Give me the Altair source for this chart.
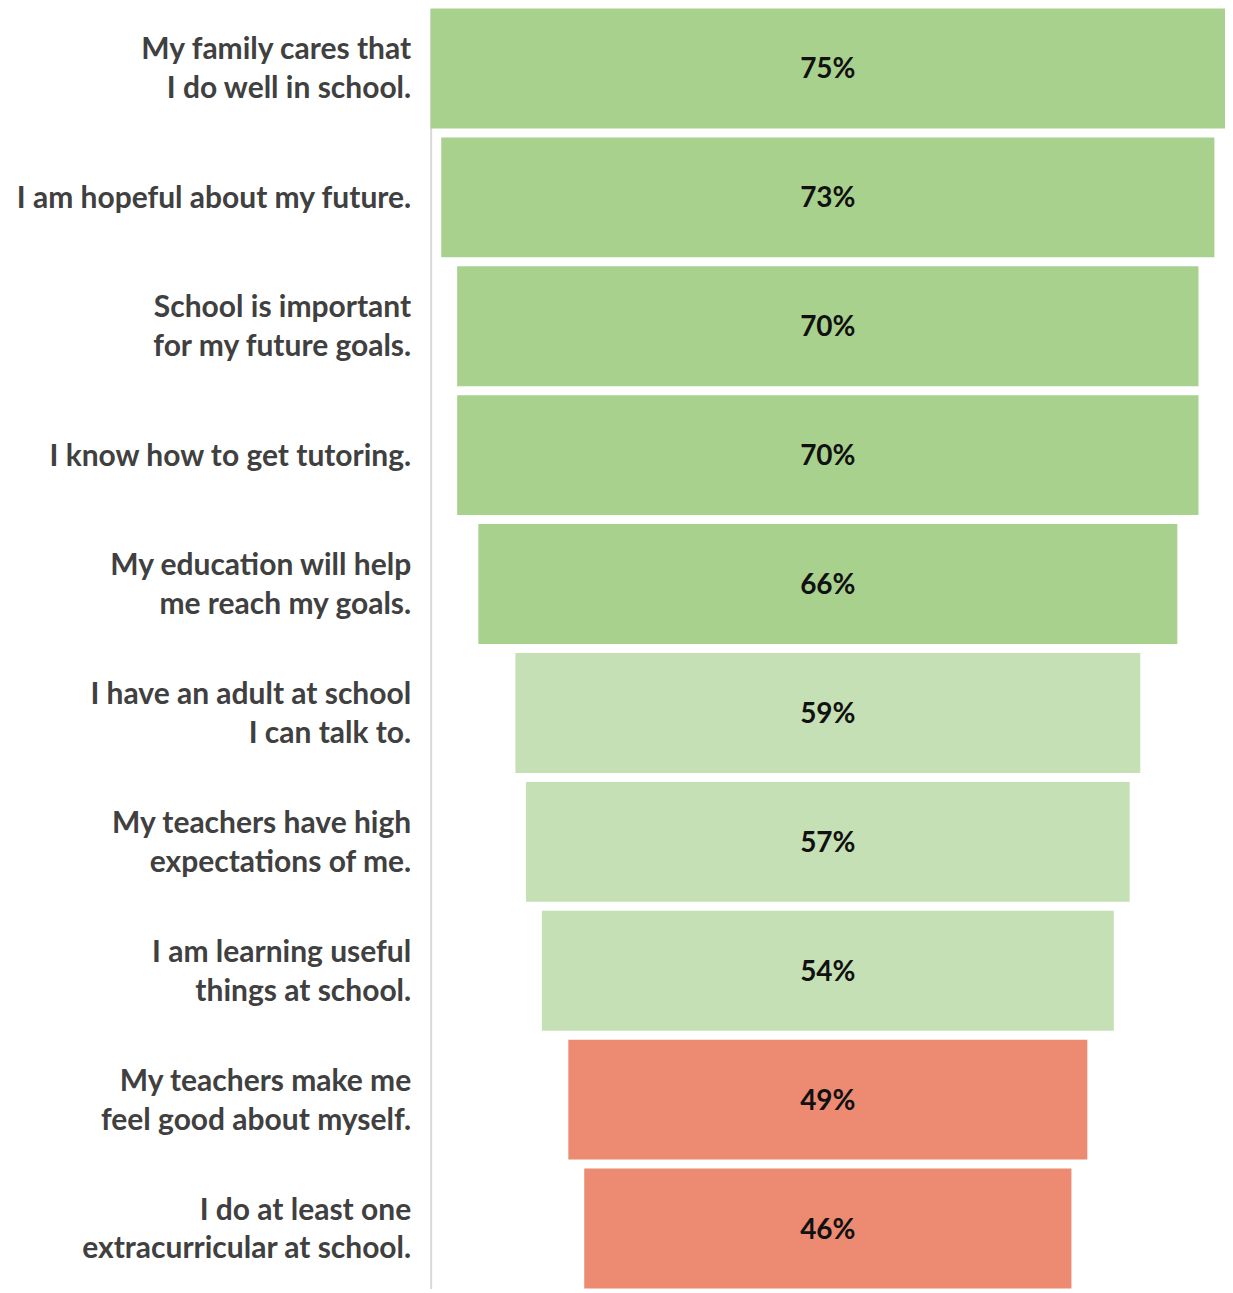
import altair as alt
import pandas as pd

statements = [
    "My family cares that|I do well in school.",
    "I am hopeful about my future.",
    "School is important|for my future goals.",
    "I know how to get tutoring.",
    "My education will help|me reach my goals.",
    "I have an adult at school|I can talk to.",
    "My teachers have high|expectations of me.",
    "I am learning useful|things at school.",
    "My teachers make me|feel good about myself.",
    "I do at least one|extracurricular at school.",
]
values = [75, 73, 70, 70, 66, 59, 57, 54, 49, 46]
groups = ["high", "high", "high", "high", "high", "mid", "mid", "mid", "low", "low"]

df = pd.DataFrame({"statement": statements, "value": values, "group": groups})
df["lo"] = -df["value"] / 2
df["hi"] = df["value"] / 2
df["label"] = df["value"].astype(str) + "%"

y = alt.Y(
    "statement:N",
    sort=statements,
    title=None,
    scale=alt.Scale(paddingInner=0.07, paddingOuter=0),
    axis=alt.Axis(
        labelExpr="split(datum.label, '|')",
        labelFont="Lato",
        labelFontSize=30,
        labelFontWeight="bold",
        labelColor="#404040",
        labelLineHeight=39,
        labelPadding=20,
        labelLimit=0,
        labelOffset={
            "condition": {"test": "indexof(datum.value, '|') >= 0", "value": -18},
            "value": 2,
        },
        ticks=False,
        domainColor="#d9d9d9",
        domainWidth=2,
        minExtent=423,
        maxExtent=423,
    ),
)

base = alt.Chart(df)

bars = base.mark_bar().encode(
    x=alt.X("lo:Q", scale=alt.Scale(domain=[-37.5, 37.5]), axis=None),
    x2="hi:Q",
    y=y,
    color=alt.Color(
        "group:N",
        scale=alt.Scale(domain=["high", "mid", "low"], range=["#a9d18e", "#c5e0b4", "#ec8a72"]),
        legend=None,
    ),
)

text = base.mark_text(
    font="Lato", fontSize=28, fontWeight="bold", color="#111111", dy=2
).encode(
    x=alt.X("zero:Q", scale=alt.Scale(domain=[-37.5, 37.5]), axis=None),
    y=alt.Y("statement:N", sort=statements),
    text="label:N",
).transform_calculate(zero="0")

chart = (
    alt.layer(bars, text)
    .properties(width=795, height=1281, padding=0)
    .configure_view(stroke=None)
    .configure_axis(grid=False)
)

chart.save("out.html", embed_options={"renderer": "svg", "actions": False})
